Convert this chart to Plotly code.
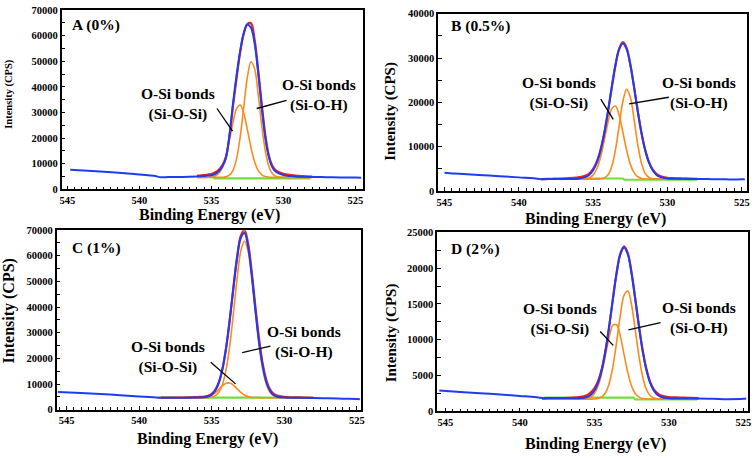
import plotly.graph_objects as go

# ---------------- data ----------------
# common binding-energy grid of the fitted region (eV)
ev_fit = [538.5, 538, 537, 536, 535.5, 535.25, 535, 534.75, 534.5, 534.25, 534,
          533.75, 533.5, 533.25, 533, 532.75, 532.5, 532.25, 532, 531.75, 531.5,
          531.25, 531, 530.75, 530.5, 530, 529.5, 529, 528.5, 528]
# panel A fit region starts at 536 eV
ev_fit_a = [536, 535.5, 535.25, 535, 534.75, 534.5, 534.25, 534, 533.75, 533.5,
            533.25, 533, 532.75, 532.5, 532.25, 532, 531.75, 531.5, 531.25, 531,
            530.75, 530.5, 530, 529.5, 529, 528.5, 528]

# ---- Panel A (0%) ----
a_blue_x = [544.8, 543, 541, 539, 538.5, 538, 537, 536, 535.5, 535.25, 535, 534.75,
            534.5, 534.25, 534, 533.75, 533.5, 533.25, 533, 532.75, 532.5, 532.25,
            532, 531.75, 531.5, 531.25, 531, 530.75, 530.5, 530, 529.5, 529, 528.5,
            528, 527, 526, 525, 524.6]
a_blue_y = [7700, 7100, 6300, 5300, 4750, 4850, 4900, 5100, 5250, 5400, 5500, 6000,
            7000, 8800, 12000, 21000, 33500, 44500, 54000, 61000, 64300, 63000,
            57000, 45500, 32000, 20000, 12500, 8500, 6800, 5600, 5200, 5000, 4950,
            4900, 4800, 4700, 4650, 4600]
a_red_y = [5300, 5600, 5800, 6000, 6600, 7600, 9300, 12500, 20500, 32500, 43500,
           53500, 60800, 64500, 64800, 58500, 46500, 33000, 21000, 13000, 9000,
           7300, 6100, 5600, 5300, 5100, 5000]
a_sioh_y = [4700, 4700, 4700, 4700, 4700, 4710, 4740, 4910, 5550, 7470, 12020,
            20420, 32170, 43750, 49810, 47100, 37130, 24860, 14890, 8890, 6100,
            5080, 4710, 4700, 4700, 4700, 4700]
a_siosi_y = [4700, 4720, 4760, 4840, 5210, 6230, 8530, 12790, 19020, 26060, 31470,
             32900, 29670, 23290, 16340, 10820, 7410, 5710, 5010, 4780, 4710, 4700,
             4700, 4700, 4700, 4700, 4700]
a_green_x = [534.85, 528.15]
a_green_y = [4300, 4300]

# ---- Panel B (0.5%) ----
b_blue_x = [545, 544, 542, 540, 539, 538.5, 538, 537, 536, 535.5, 535.25, 535,
            534.75, 534.5, 534.25, 534, 533.75, 533.5, 533.25, 533, 532.75, 532.5,
            532.25, 532, 531.75, 531.5, 531.25, 531, 530.75, 530.5, 530, 529.5, 529,
            528.5, 528, 527, 526, 525, 524.8]
b_blue_y = [4150, 3900, 3500, 3100, 2900, 2700, 2720, 2750, 2800, 3200, 3710, 4720,
            6460, 9240, 13140, 18050, 23480, 28450, 32020, 33300, 32020, 28450,
            23480, 18050, 13140, 9240, 6460, 4720, 3710, 3200, 2850, 2800, 2780,
            2760, 2750, 2700, 2650, 2650, 2700]
b_red_y = [2700, 2750, 2850, 3100, 3500, 4000, 5000, 6700, 9400, 13200, 18000,
           23300, 28400, 32100, 33600, 32300, 28600, 23500, 18000, 13100, 9300,
           6600, 4900, 3900, 3400, 3000, 2900, 2850, 2800, 2750]
b_sioh_y = [2700, 2700, 2700, 2700, 2700, 2700, 2700, 2710, 2760, 2970, 3680,
            5560, 9300, 14780, 20260, 22960, 21250, 16200, 10480, 6270, 4000,
            3070, 2790, 2720, 2700, 2700, 2700, 2700, 2700, 2700]
b_siosi_y = [2700, 2700, 2700, 2700, 2790, 3030, 3670, 5110, 7700, 11430, 15530,
             18570, 19180, 17110, 13270, 9220, 6090, 4180, 3240, 2870, 2740, 2700,
             2700, 2700, 2700, 2700, 2700, 2700, 2700, 2700]
b_green_x = [537.7, 533.0, 532.9, 528.0]
b_green_y = [2850, 2850, 2560, 2560]

# ---- Panel C (1%) ----
c_blue_x = [545.6, 544, 542, 540, 539, 538.5, 538, 537, 536, 535.5, 535.25, 535,
            534.75, 534.5, 534.25, 534, 533.75, 533.5, 533.25, 533, 532.75, 532.5,
            532.25, 532, 531.75, 531.5, 531.25, 531, 530.75, 530.5, 530, 529.5, 529,
            528.5, 528, 527, 526, 525, 524.8]
c_blue_y = [6900, 6500, 5900, 5200, 4850, 4700, 4700, 4700, 4750, 4860, 5160, 5900,
            7520, 10670, 16080, 24380, 35310, 47720, 59160, 66940, 68870, 63660,
            52730, 39360, 26880, 17300, 11030, 7520, 5820, 5090, 4750, 4700, 4650,
            4600, 4550, 4450, 4300, 4150, 4100]
c_red_y = [4700, 4700, 4750, 4950, 5100, 5400, 6200, 7900, 11000, 16400, 24700,
           35700, 48200, 59800, 67800, 70000, 65000, 54000, 40500, 28000, 18200,
           11800, 8100, 6300, 5500, 5000, 4850, 4800, 4750, 4700]
c_sioh_y = [4700, 4700, 4700, 4700, 4700, 4720, 4960, 5510, 6940, 10060, 16000,
            25410, 37940, 51320, 61830, 65800, 61830, 51320, 37940, 25410, 16000,
            10060, 6940, 5510, 4960, 4770, 4700, 4700, 4700, 4700]
c_siosi_y = [4700, 4700, 4700, 4710, 4840, 5100, 5650, 6630, 7980, 9400, 10340,
             10400, 9540, 8160, 6780, 5750, 5140, 4860, 4750, 4710, 4700, 4700,
             4700, 4700, 4700, 4700, 4700, 4700, 4700, 4700]
c_green_x = [538.7, 528.2]
c_green_y = [4700, 4700]

# ---- Panel D (2%) ----
d_blue_x = [545.4, 544, 542, 540, 539, 538.5, 538, 537, 536, 535.5, 535.25, 535,
            534.75, 534.5, 534.25, 534, 533.75, 533.5, 533.25, 533, 532.75, 532.5,
            532.25, 532, 531.75, 531.5, 531.25, 531, 530.75, 530.5, 530, 529.5, 529,
            528.5, 528, 527, 526, 525, 524.8]
d_blue_y = [2900, 2700, 2450, 2150, 2000, 1850, 1850, 1850, 1830, 2000, 2290, 2880,
            3970, 5770, 8400, 11820, 15680, 19310, 21950, 22900, 21950, 19310,
            15680, 11820, 8400, 5770, 3970, 2880, 2290, 2000, 1830, 1800, 1800,
            1800, 1800, 1750, 1700, 1750, 1800]
d_red_y = [1800, 1820, 1850, 2000, 2250, 2600, 3200, 4200, 5900, 8500, 11900,
           15750, 19400, 22050, 23050, 22100, 19400, 15750, 11900, 8500, 5900,
           4100, 3050, 2500, 2200, 2000, 1950, 1900, 1870, 1850]
d_sioh_y = [1700, 1700, 1700, 1700, 1700, 1700, 1720, 1790, 2000, 2590, 3900,
            6270, 9700, 13450, 16230, 16800, 14890, 11380, 7670, 4800, 3050,
            2200, 1850, 1740, 1710, 1700, 1700, 1700, 1700, 1700]
d_siosi_y = [1700, 1700, 1700, 1700, 1780, 1960, 2450, 3500, 5310, 7810, 10370,
             12050, 12090, 10470, 7920, 5410, 3550, 2480, 1980, 1780, 1720, 1700,
             1700, 1700, 1700, 1700, 1700, 1700, 1700, 1700]
d_green_x = [538.4, 532.35, 532.25, 528.1]
d_green_y = [1900, 1900, 1650, 1650]

panel_labels = ["A (0%)", "B (0.5%)", "C (1%)", "D (2%)"]
bond_top = "O-Si bonds"
bond_left = "(Si-O-Si)"
bond_right = "(Si-O-H)"
x_title = "Binding Energy (eV)"
y_title = "Intensity (CPS)"

# ---------------- styling / layout ----------------
W, H = 756, 458
FONT = "Times New Roman, Liberation Serif, serif"
BLUE, RED, ORANGE, GREEN = "#1f3cf5", "#e8231c", "#ff8a1c", "#6fe03a"


def px_x(p):
    return p / W


def px_y(p):
    return (H - p) / H


panels = [
    dict(sfx="", fit_x=ev_fit_a, blue=(a_blue_x, a_blue_y), red=a_red_y,
         sioh=a_sioh_y, siosi=a_siosi_y, green=(a_green_x, a_green_y),
         xdom=(60, 363), ydom=(189, 5), xr=[545.4, 524.5], yr=[0, 70000], dt=10000,
         lab=(68, 21), ytfs=10.5, xt=(209, 215), yt=(7, 91),
         tl=(537.34, 33460), tr=(527.55, 36690),
         ll=((534.61, 31560), (533.53, 22700)), lr=((529.78, 34700), (531.85, 31560))),
    dict(sfx="2", fit_x=ev_fit, blue=(b_blue_x, b_blue_y), red=b_red_y,
         sioh=b_sioh_y, siosi=b_siosi_y, green=(b_green_x, b_green_y),
         xdom=(439, 749.7), ydom=(190.7, 9), xr=[545.43, 524.67], yr=[0, 40000], dt=10000,
         lab=(450, 22), ytfs=15, xt=(597, 219), yt=(391, 109),
         tl=(537.28, 22040), tr=(527.9, 22040),
         ll=((534.49, 20730), (533.65, 16200)), lr=((529.91, 21170), (532.58, 19700))),
    dict(sfx="3", fit_x=ev_fit, blue=(c_blue_x, c_blue_y), red=c_red_y,
         sioh=c_sioh_y, siosi=c_siosi_y, green=(c_green_x, c_green_y),
         xdom=(55, 361.7), ydom=(414.7, 230.7), xr=[545.68, 524.7], yr=[0, 70000], dt=10000,
         lab=(68, 249), ytfs=16, xt=(207, 445), yt=(8, 313),
         tl=(538.03, 20610), tr=(528.63, 26300),
         ll=((535.07, 18470), (533.36, 10080)), lr=((530.96, 24800), (532.9, 22290))),
    dict(sfx="4", fit_x=ev_fit, blue=(d_blue_x, d_blue_y), red=d_red_y,
         sioh=d_sioh_y, siosi=d_siosi_y, green=(d_green_x, d_green_y),
         xdom=(438, 750.7), ydom=(416.3, 233), xr=[545.55, 524.7], yr=[0, 25000], dt=5000,
         lab=(450, 250), ytfs=15, xt=(597, 450), yt=(393, 336),
         tl=(537.33, 12860), tr=(528.0, 13080),
         ll=((534.6, 11160), (533.73, 9220)), lr=((530.55, 12380), (532.71, 11390))),
]

fig = go.Figure()
layout = {}
annotations = []
shapes = []

for i, p in enumerate(panels):
    xa, ya = "x" + p["sfx"], "y" + p["sfx"]
    common = dict(xaxis=xa, yaxis=ya, mode="lines", showlegend=False,
                  hoverinfo="skip")
    fig.add_trace(go.Scatter(x=p["green"][0], y=p["green"][1],
                             line=dict(color=GREEN, width=2.2), **common))
    fig.add_trace(go.Scatter(x=p["fit_x"], y=p["siosi"],
                             line=dict(color=ORANGE, width=1.6, shape="spline"), **common))
    fig.add_trace(go.Scatter(x=p["fit_x"], y=p["sioh"],
                             line=dict(color=ORANGE, width=1.6, shape="spline"), **common))
    fig.add_trace(go.Scatter(x=p["fit_x"], y=p["red"],
                             line=dict(color=RED, width=2.2, shape="spline"), **common))
    fig.add_trace(go.Scatter(x=p["blue"][0], y=p["blue"][1],
                             line=dict(color=BLUE, width=2, shape="spline"), **common))

    tickfont = dict(family=FONT, size=10.5, color="black", weight="bold")
    layout["xaxis" + p["sfx"]] = dict(
        domain=[px_x(p["xdom"][0]), px_x(p["xdom"][1])], range=p["xr"],
        anchor=ya, showline=True, linecolor="black", linewidth=1.6, mirror=True,
        ticks="inside", ticklen=4, tickwidth=1.2, tickcolor="black",
        tick0=525, dtick=5, showgrid=False, zeroline=False, tickfont=tickfont,
        minor=dict(dtick=0.5, ticks="inside", ticklen=3, tickwidth=1,
                   tickcolor="black", showgrid=False),
    )
    layout["yaxis" + p["sfx"]] = dict(
        domain=[px_y(p["ydom"][0]), px_y(p["ydom"][1])], range=p["yr"],
        anchor=xa, showline=True, linecolor="black", linewidth=1.6, mirror=True,
        ticks="inside", ticklen=4, tickwidth=1.2, tickcolor="black",
        tick0=0, dtick=p["dt"], tickformat="d", showgrid=False, zeroline=False,
        tickfont=tickfont,
        minor=dict(dtick=p["dt"] / 2, ticks="inside", ticklen=4, tickwidth=1,
                   tickcolor="black", showgrid=False),
    )

    bold = dict(family=FONT, color="black", weight="bold")
    # panel label
    annotations.append(dict(text=panel_labels[i], xref="paper", yref="paper",
                            x=px_x(p["lab"][0]), y=px_y(p["lab"][1]),
                            xanchor="left", yanchor="middle", showarrow=False,
                            font=dict(size=15.5, **bold)))
    # axis titles
    annotations.append(dict(text=x_title, xref="paper", yref="paper",
                            x=px_x(p["xt"][0]), y=px_y(p["xt"][1]),
                            xanchor="center", yanchor="middle", showarrow=False,
                            font=dict(size=16, **bold)))
    annotations.append(dict(text=y_title, xref="paper", yref="paper",
                            x=px_x(p["yt"][0]), y=px_y(p["yt"][1]), textangle=-90,
                            xanchor="center", yanchor="middle", showarrow=False,
                            font=dict(size=p["ytfs"], **bold)))
    # bond labels
    annotations.append(dict(text=bond_top + "<br>" + bond_left, xref=xa, yref=ya,
                            x=p["tl"][0], y=p["tl"][1], xanchor="center",
                            yanchor="middle", showarrow=False, align="center",
                            font=dict(size=15.5, **bold)))
    annotations.append(dict(text=bond_top + "<br>" + bond_right, xref=xa, yref=ya,
                            x=p["tr"][0], y=p["tr"][1], xanchor="center",
                            yanchor="middle", showarrow=False, align="center",
                            font=dict(size=15.5, **bold)))
    for (x0, y0), (x1, y1) in (p["ll"], p["lr"]):
        shapes.append(dict(type="line", xref=xa, yref=ya, x0=x0, y0=y0, x1=x1,
                           y1=y1, line=dict(color="black", width=1.3)))

fig.update_layout(
    width=W, height=H, margin=dict(l=0, r=0, t=0, b=0),
    paper_bgcolor="white", plot_bgcolor="white",
    font=dict(family=FONT, color="black"),
    annotations=annotations, shapes=shapes, **layout,
)

fig.write_html("out.html")
